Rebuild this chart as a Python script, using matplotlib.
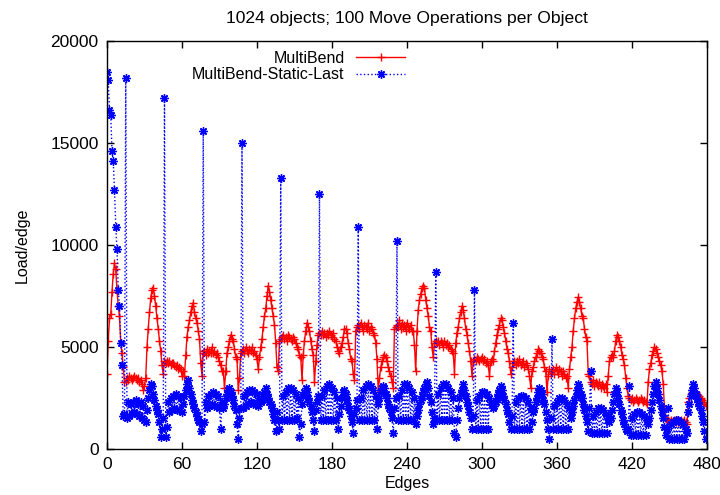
import matplotlib
matplotlib.use('Agg')
import matplotlib.pyplot as plt
import numpy as np

plt.rcParams['font.family'] = ['Liberation Sans', 'DejaVu Sans']
plt.rcParams['font.size'] = 11.5

title = "1024 objects; 100 Move Operations per Object"
labels = ["MultiBend", "MultiBend-Static-Last"]
xticks = [0, 60, 120, 180, 240, 300, 360, 420, 480]
yticks = [0, 5000, 10000, 15000, 20000]

# ----- Load per edge (one row per block of edges) -----
multibend = [
    3700, 5300, 6400, 6600, 7700, 8600, 9100, 8800, 7800, 7000, 6500, 5200, 4700, 4000, 3300,
    3300, 3500, 3400, 3600, 3500, 3400, 3500, 3600, 3500, 3400, 3500, 3300, 3400, 3200, 2900, 3100,
    3500, 5000, 5900, 6700, 7400, 7800, 7900, 7500, 7000, 6400, 5900, 5300, 4800, 4100, 3700,
    4300, 4200, 4300, 4200, 4300, 4100, 4200, 4200, 4100, 4000, 4100, 3900, 4000, 3900, 3600, 3800,
    3600, 4600, 5500, 6000, 6300, 6700, 7000, 7150, 6700, 6400, 6200, 5800, 5400, 4200, 3600,
    4700, 4800, 4600, 4900, 4700, 4800, 4700, 5000, 4700, 4800, 4600, 4700, 4500, 4300, 4100, 3800,
    3800, 3000, 3800, 4700, 5000, 5300, 5600, 5400, 5300, 4900, 4500, 4400, 2900, 3500, 4700,
    4800, 4900, 4700, 5000, 4800, 4700, 4900, 4800, 5000, 4700, 4800, 4600, 4400, 3900, 4500, 5000,
    5400, 6000, 6500, 6900, 7500, 8000, 7700, 7300, 6900, 6500, 6100, 5200, 4000, 3800, 5300,
    5400, 5500, 5600, 5400, 5500, 5300, 5600, 5500, 5400, 5300, 5500, 5400, 5200, 5000, 4900, 4600,
    4500, 3400, 4600, 5300, 5800, 6200, 6000, 5800, 5300, 4900, 4600, 3300, 4300, 5100, 5600,
    5700, 5600, 5800, 5600, 5700, 5500, 5700, 5600, 5800, 5600, 5500, 5700, 5400, 5300, 5000, 4800,
    4700, 5000, 5200, 5500, 5900, 5900, 5700, 5200, 4900, 4400, 4300, 3700, 3400, 5800, 6000,
    6100, 5900, 6200, 6000, 5800, 6100, 6000, 5900, 6200, 5800, 6000, 5900, 5700, 5600, 5200, 4400,
    2800, 3500, 4000, 4300, 4500, 4600, 4500, 4300, 4000, 3800, 3600, 3300, 3000, 5900, 6000,
    6100, 6000, 6300, 5900, 6200, 6000, 6100, 5800, 6200, 6000, 5900, 6100, 5800, 5800, 5100, 3800,
    5800, 6800, 7300, 7600, 7900, 8000, 7900, 7300, 6900, 6500, 6000, 5800, 5000, 4500, 5200,
    5300, 5200, 5300, 5100, 5300, 5200, 5000, 5300, 5100, 5200, 5000, 5100, 4900, 4800, 4700, 3700,
    5200, 5700, 6000, 6400, 6700, 7000, 6800, 6400, 5900, 5600, 5200, 4800, 4300, 3600, 4300,
    4400, 4300, 4500, 4400, 4300, 4400, 4500, 4300, 4400, 4200, 4300, 4100, 3600, 4300, 4400, 4300,
    4800, 5200, 5600, 5900, 6100, 6400, 6300, 6000, 5700, 5300, 4900, 4700, 4300, 3700, 4000,
    4200, 4300, 4100, 4300, 4200, 4400, 4100, 4200, 4300, 4000, 4200, 4100, 3900, 3600, 3000, 3800,
    4000, 4300, 4500, 4700, 4900, 4800, 4700, 4500, 4400, 4000, 3800, 2800, 3600, 3900, 3700,
    3800, 3900, 3700, 4000, 3800, 3700, 3900, 3800, 3600, 3800, 3700, 3500, 3600, 3000, 3900, 4500,
    5000, 5800, 6400, 6900, 7200, 7450, 7200, 6900, 6500, 6400, 5900, 5500, 5300, 3700, 3600,
    3300, 3200, 3400, 3100, 3300, 3200, 3100, 3300, 3000, 3200, 3100, 3000, 3200, 2800, 3600, 4300,
    4500, 4600, 4500, 4800, 5300, 5600, 5500, 5300, 5000, 4600, 4400, 4100, 3500, 3000, 2600,
    2500, 2400, 2500, 2300, 2400, 2500, 2400, 2300, 2400, 2500, 2400, 2300, 2400, 2300, 2200, 3300,
    3900, 4200, 4600, 4800, 5000, 4900, 4700, 4500, 4300, 4100, 3800, 3200, 2000, 1500, 1400,
    1400, 1300, 1400, 1300, 1300, 1400, 1300, 1400, 1300, 1300, 1400, 1300, 1300, 1400, 1300, 1200,
    2300, 2500, 2700, 2800, 2800, 2700, 2800, 2700, 2600, 2600, 2500, 2400, 2300, 2300, 2100,
]

static_last = [
    18500, 18100, 16600, 16400, 14600, 14100, 12700, 10900, 9800, 7800, 7000, 5200, 4100, 1600, 1700,
    18200, 1500, 2300, 1600, 2200, 1700, 2300, 1800, 2400, 1700, 2200, 1600, 2300, 1500, 2100, 1400,
    1300, 1900, 2500, 2900, 3200, 3100, 2700, 2400, 2100, 1900, 1700, 1300, 600, 1000, 1500,
    17200, 600, 1100, 2300, 1800, 2500, 1900, 2600, 2000, 2700, 1900, 2600, 1900, 2500, 1800, 2200,
    2600, 2900, 3200, 3400, 3000, 2700, 2400, 2200, 2000, 1800, 1600, 1400, 1300, 900, 1200,
    15600, 1300, 2300, 2000, 2600, 2100, 2700, 2200, 2800, 2100, 2700, 2100, 2600, 2000, 1000, 2300,
    2000, 2200, 2500, 2700, 2900, 3000, 2800, 2600, 2400, 2100, 1900, 1200, 500, 1500, 2000,
    15000, 2000, 2600, 2100, 2800, 2200, 2900, 2300, 2900, 2200, 2800, 2200, 2700, 2100, 2500, 2300,
    2400, 2600, 2800, 3000, 2700, 2500, 2300, 2200, 2000, 1700, 1400, 900, 1800, 1400, 1000,
    13300, 1400, 2600, 1400, 2800, 1400, 3000, 1400, 3000, 1400, 2900, 1400, 2700, 1500, 2500, 600,
    1200, 2200, 2600, 2800, 3000, 2800, 2500, 2300, 2100, 1800, 1400, 900, 1900, 2300, 2600,
    12500, 1400, 2600, 1400, 2900, 1400, 3100, 1400, 3200, 1400, 3000, 1400, 2800, 1400, 2500, 1000,
    1700, 2100, 2500, 2800, 2900, 2700, 2400, 2100, 1900, 1600, 1300, 800, 1700, 2000, 2400,
    10900, 1400, 2500, 1400, 2900, 1400, 3100, 1400, 3200, 1400, 3100, 1400, 2900, 1400, 2600, 1000,
    2200, 2500, 2800, 3000, 3100, 3000, 2700, 2500, 2200, 2000, 1800, 1500, 800, 2000, 2500,
    10200, 1400, 2600, 1400, 2900, 1400, 3200, 1400, 3200, 1400, 3000, 1400, 2800, 1400, 2500, 1200,
    1600, 1900, 2200, 2400, 2600, 2800, 3000, 3200, 3300, 3000, 2600, 2300, 1800, 1200, 1500,
    8700, 1400, 2700, 1400, 3000, 1400, 3200, 1400, 3200, 1400, 3000, 1400, 2800, 1400, 2500, 800,
    600, 1400, 2000, 2500, 2700, 2900, 3200, 2900, 2600, 2300, 2100, 1800, 1500, 1000, 1600,
    7800, 1000, 2400, 1000, 2600, 1000, 2800, 1000, 2800, 1000, 2700, 1000, 2500, 2300, 2200, 2000,
    2100, 2300, 2500, 2700, 2900, 3100, 2900, 2600, 2400, 2200, 1900, 1700, 1300, 1000, 1600,
    6200, 1000, 2300, 1000, 2500, 1000, 2600, 1000, 2600, 1000, 2500, 1000, 2300, 1000, 2000, 1300,
    1800, 2000, 2300, 2500, 2800, 3000, 2900, 2700, 2400, 2200, 1800, 1400, 1000, 500, 1500,
    5400, 1000, 2100, 1000, 2300, 1000, 2500, 1000, 2500, 1000, 2400, 1000, 2200, 1000, 2000, 1500,
    1800, 2100, 2400, 2600, 2900, 3200, 3000, 2700, 2500, 2200, 1900, 1600, 1300, 900, 2000,
    3800, 800, 1600, 800, 1800, 800, 2000, 800, 2000, 800, 1900, 800, 1700, 800, 1500, 1300,
    1500, 1900, 2300, 2700, 3000, 2800, 2500, 2200, 1900, 1700, 1400, 1200, 1000, 900, 1000,
    3100, 700, 1500, 700, 1700, 700, 1800, 700, 1800, 700, 1700, 700, 1600, 700, 1400, 1200,
    1500, 1900, 2300, 2700, 3100, 3300, 3000, 2700, 2400, 2100, 1800, 1500, 1100, 700, 1000,
    2000, 500, 1200, 500, 1300, 500, 1400, 500, 1400, 500, 1300, 500, 1200, 500, 1000, 800,
    1800, 2200, 2600, 2900, 3200, 3000, 2700, 2500, 2300, 2100, 1900, 1600, 1300, 900, 500,
]

edges = np.arange(len(multibend))

fig = plt.figure(figsize=(7.2, 4.95), dpi=100)
ax = fig.add_axes([0.1486, 0.093, 0.8333, 0.824])

ax.plot(edges, multibend, color='#ff0000', linewidth=1, marker='+',
        markersize=6, markeredgewidth=1, label=labels[0])
ax.plot(edges, static_last, color='#0000ff', linewidth=1, linestyle=':',
        marker=(8, 2, 0), markersize=6, markeredgewidth=1, label=labels[1])

ax.set_xlim(0, 480)
ax.set_ylim(0, 20000)
ax.set_xticks(xticks)
ax.set_yticks(yticks)
ax.tick_params(direction='in', top=True, right=True, length=5, width=1,
               pad=6, labelsize=12.5)
for sp in ax.spines.values():
    sp.set_linewidth(1)

ax.set_title(title, pad=13, fontsize=12.6)
ax.set_xlabel("Edges", labelpad=3)
ax.set_ylabel("Load/edge", labelpad=15)

ax.legend(loc='upper right', bbox_to_anchor=(0.5, 0.98), frameon=False,
          markerfirst=False, handlelength=3.1, handletextpad=0.7,
          labelspacing=0.1, borderaxespad=0, borderpad=0.1)

plt.savefig('out.png', dpi=100)
